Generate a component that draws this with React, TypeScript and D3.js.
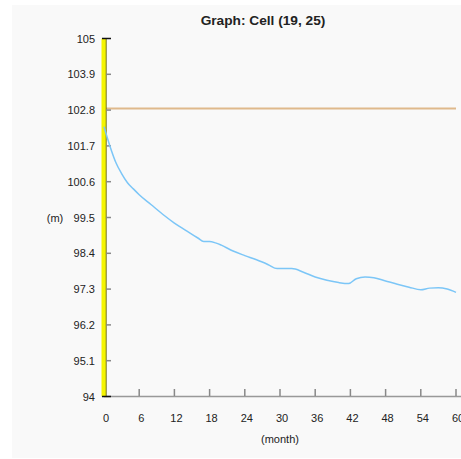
import React from "react";
import * as d3 from "d3";

const months = [0, 1, 2, 3, 4, 5, 6, 8, 10, 12, 14, 16, 17, 18, 19, 20, 22, 24, 26, 28, 29.5, 32, 34, 36, 38, 40, 41.7, 43, 44.5, 46, 48, 50, 52, 54, 55.5, 57, 58.5, 60];
const heads = [102.29, 101.7, 101.2, 100.85, 100.57, 100.38, 100.2, 99.9, 99.6, 99.33, 99.1, 98.87, 98.76, 98.76, 98.72, 98.65, 98.47, 98.33, 98.2, 98.05, 97.93, 97.93, 97.82, 97.67, 97.57, 97.5, 97.47, 97.62, 97.67, 97.65, 97.55, 97.45, 97.36, 97.28, 97.33, 97.34, 97.3, 97.2];
const referenceLevel = 102.85;
const xTicks = [0, 6, 12, 18, 24, 30, 36, 42, 48, 54, 60];
const yTicks = [94, 95.1, 96.2, 97.3, 98.4, 99.5, 100.6, 101.7, 102.8, 103.9, 105];
const title = "Graph: Cell (19, 25)";

export default function App() {
  const x = d3.scaleLinear().domain([0, 60]).range([104, 456]);
  const y = d3.scaleLinear().domain([94, 105]).range([396.5, 38.5]);
  const line = d3
    .line<number>()
    .x((_, i) => x(months[i]))
    .y((d) => y(d))
    .curve(d3.curveMonotoneX);
  const font = "'Liberation Sans', Arial, Helvetica, sans-serif";
  return (
    <svg width={461} height={459} style={{ position: "absolute", left: 0, top: 0 }} fontFamily={font}>
      <rect x={0} y={0} width={461} height={459} fill="#ffffff" />
      <rect x={12} y={5} width={449} height={453} fill="#f9f9f9" />
      <text x={263} y={25} textAnchor="middle" fontSize={13.7} fontWeight="bold" fill="#222">
        {title}
      </text>
      {/* reference level */}
      <line x1={106} x2={456} y1={y(referenceLevel)} y2={y(referenceLevel)} stroke="#dfb98c" strokeWidth={2} />
      {/* x axis */}
      <line x1={104} x2={461} y1={396.5} y2={396.5} stroke="#999" strokeWidth={1.5} />
      {xTicks.map((t, i) => (
        <g key={t}>
          <line x1={x(t)} x2={x(t)} y1={396} y2={389} stroke={i === 0 ? "#111" : "#888"} strokeWidth={1.5} />
          <text x={x(t) + 2} y={422} textAnchor="middle" fontSize={11} fill="#222">
            {t}
          </text>
        </g>
      ))}
      <text x={280} y={443} textAnchor="middle" fontSize={11} fill="#222">
        (month)
      </text>
      {/* y axis */}
      <line x1={104} x2={104} y1={y(105)} y2={y(94)} stroke="#f5f500" strokeWidth={5} />
      <line x1={106.2} x2={106.2} y1={y(105)} y2={y(94)} stroke="#222" strokeWidth={0.6} />
      {yTicks.map((t, i) => (
        <g key={t}>
          <line
            x1={i === 0 || i === yTicks.length - 1 ? 102 : 106}
            x2={111}
            y1={y(t)}
            y2={y(t)}
            stroke={i === 0 || i === yTicks.length - 1 ? "#111" : "#888"}
            strokeWidth={1.5}
          />
          <text x={95} y={y(t) + 4} textAnchor="end" fontSize={11} fill="#222">
            {t}
          </text>
        </g>
      ))}
      <text x={55} y={y(99.5) + 4} textAnchor="middle" fontSize={11} fill="#222">
        (m)
      </text>
      <path d={line(heads) || ""} fill="none" stroke="#7cc6f7" strokeWidth={1.5} />
    </svg>
  );
}
